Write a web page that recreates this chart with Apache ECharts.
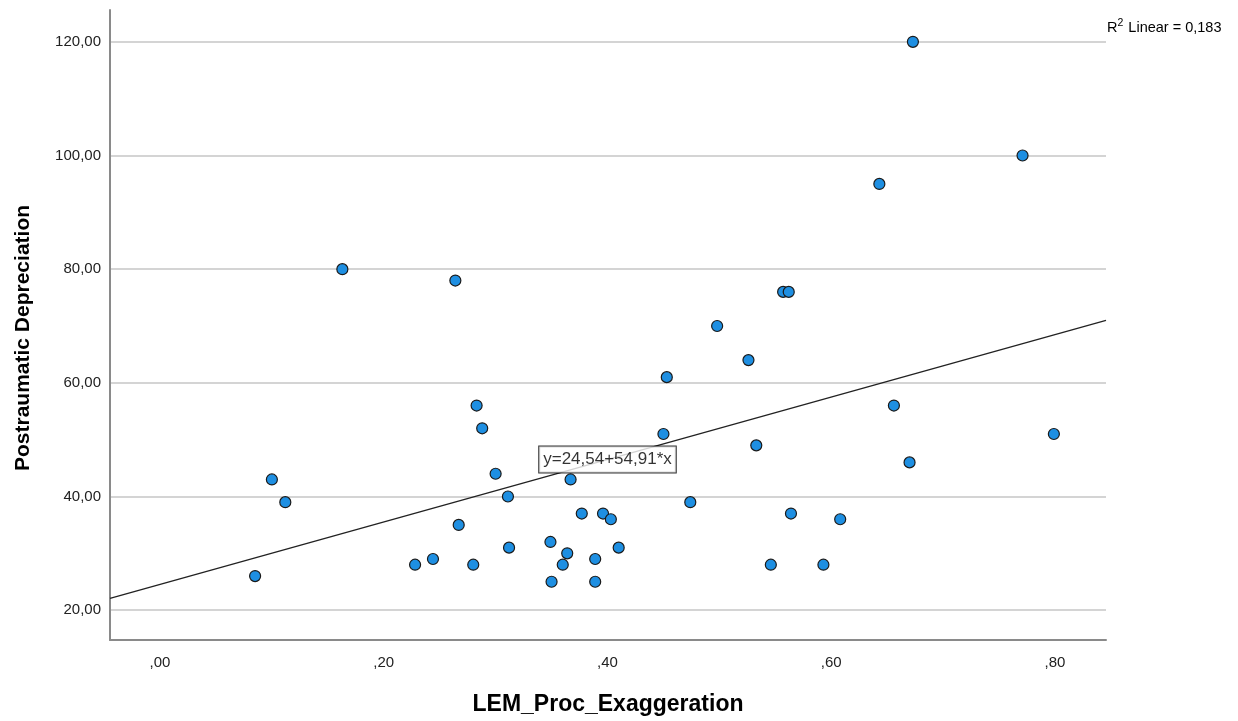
<!DOCTYPE html>
<html><head><meta charset="utf-8">
<script src="https://cdn.jsdelivr.net/npm/echarts@6/dist/echarts.min.js"></script>
<style>html,body{margin:0;padding:0;background:#fff}#c{width:1238px;height:721px}</style>
</head><body><div id="c"></div>
<script>
// Data
const xValues = [0.085, 0.100, 0.112, 0.163, 0.228, 0.244, 0.264, 0.267, 0.280, 0.283, 0.288, 0.300, 0.311, 0.312,
                 0.349, 0.350, 0.360, 0.364, 0.367, 0.377, 0.389, 0.389, 0.396, 0.403, 0.410, 0.450, 0.453, 0.474,
                 0.498, 0.526, 0.533, 0.546, 0.557, 0.562, 0.564, 0.593, 0.608, 0.643, 0.656, 0.670, 0.673, 0.771, 0.799];
const yValues = [26, 43, 39, 80, 28, 29, 78, 35, 28, 56, 52, 44, 40, 31,
                 32, 25, 28, 30, 43, 37, 29, 25, 37, 36, 31, 51, 61, 39,
                 70, 64, 49, 28, 76, 76, 37, 28, 36, 95, 56, 46, 120, 100, 51];
const xTicks = [0, 0.2, 0.4, 0.6, 0.8];
const yTicks = [20, 40, 60, 80, 100, 120];
const fitIntercept = 24.54;
const fitSlope = 54.91;
const fitLabel = 'y=24,54+54,91*x';
const fitLabelX = 0.4;
const r2Text = '0,183';
const xTitle = 'LEM_Proc_Exaggeration';
const yTitle = 'Postraumatic Depreciation';
const xRange = [-0.0447, 0.8456];
const yRange = [14.75, 125.6];

const points = xValues.map((x, i) => [x, yValues[i]]);
const fitLine = xRange.map(x => [x, fitIntercept + fitSlope * x]);

const chart = echarts.init(document.getElementById('c'), null, {renderer: 'canvas'});
chart.setOption({
  backgroundColor: '#fff',
  animation: false,
  grid: {left: 110, right: 132, top: 10, bottom: 78},
  xAxis: {
    type: 'value', min: xRange[0], max: xRange[1],
    name: xTitle, nameLocation: 'middle', nameGap: 53,
    nameTextStyle: {fontFamily: 'Liberation Sans', fontWeight: 'bold', fontSize: 23, color: '#000'},
    axisLine: {show: true, onZero: false, lineStyle: {color: '#8a8a8a', width: 2}},
    axisTick: {show: false, customValues: xTicks},
    axisLabel: {customValues: xTicks, margin: 15, fontFamily: 'Liberation Sans', fontSize: 15, color: '#222',
      formatter: v => v.toFixed(2).replace('0.', ',')},
    splitLine: {show: false}
  },
  yAxis: {
    type: 'value', min: yRange[0], max: yRange[1],
    axisLine: {show: true, onZero: false, lineStyle: {color: '#8a8a8a', width: 2}},
    axisTick: {show: false, customValues: yTicks},
    axisLabel: {customValues: yTicks, margin: 9, fontFamily: 'Liberation Sans', fontSize: 15, color: '#222',
      formatter: v => v.toFixed(2).replace('.', ',')},
    splitLine: {show: true, lineStyle: {color: '#c6c6c6', width: 1.5}}
  },
  graphic: [{
    type: 'text', x: 23, y: 338, rotation: Math.PI / 2,
    style: {text: yTitle, fontFamily: 'Liberation Sans', fontWeight: 'bold', fontSize: 21, fill: '#000',
      align: 'center', verticalAlign: 'middle'}
  }, {
    type: 'text', left: 1107, top: 18,
    style: {
      text: '{n|R}{s|2}{n| Linear = ' + r2Text + '}',
      rich: {
        n: {fontFamily: 'Liberation Sans', fontSize: 14.5, color: '#000', verticalAlign: 'bottom'},
        s: {fontFamily: 'Liberation Sans', fontSize: 10.5, color: '#000', verticalAlign: 'top', padding: [0, 1, 6, 0]}
      }
    }
  }],
  series: [
    {
      type: 'line', data: fitLine, showSymbol: false, symbol: 'none', silent: true,
      lineStyle: {color: '#222', width: 1.3}, z: 2
    },
    {
      type: 'scatter', data: points, symbol: 'circle', symbolSize: 11,
      itemStyle: {color: '#1e8fe2', borderColor: '#1a1a1a', borderWidth: 1.2, opacity: 1}, z: 3
    },
    {
      type: 'scatter', data: [[fitLabelX, fitIntercept + fitSlope * fitLabelX]], symbolSize: 0, z: 4,
      label: {show: true, position: 'inside', formatter: fitLabel, fontFamily: 'Liberation Sans', fontSize: 17,
        color: '#000', backgroundColor: '#fff', borderColor: '#000', borderWidth: 1, padding: [5, 4, 4, 4]}
    }
  ]
});
</script></body></html>
